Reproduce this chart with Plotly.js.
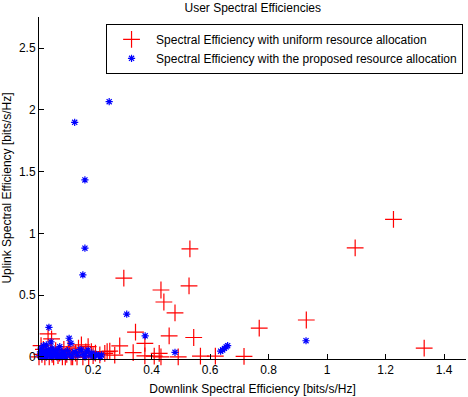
<!DOCTYPE html>
<html>
<head>
<meta charset="utf-8">
<script src="https://cdn.plot.ly/plotly-3.0.1.min.js"></script>
<style>
  body { margin: 0; padding: 0; background: #fff; }
  #plot { width: 468px; height: 397px; }
</style>
</head>
<body>
<div id="plot"></div>
<script>
// uniform resource allocation (red +)
var uniformX = [1.227, 1.096, 0.531, 0.528, 0.432, 0.442, 0.480, 0.305, 0.929, 0.768, 1.332, 0.716,
  0.345, 0.460, 0.544, 0.377, 0.291, 0.257, 0.337, 0.274, 0.377, 0.426, 0.409, 0.432, 0.491, 0.567, 0.618, 0.240, 0.248,
  0.022, 0.030, 0.025, 0.035, 0.040, 0.046, 0.058, 0.055, 0.060, 0.065, 0.072, 0.080, 0.085, 0.095, 0.100, 0.110,
  0.120, 0.130, 0.140, 0.150, 0.160, 0.165, 0.175, 0.183, 0.194, 0.200, 0.208, 0.223, 0.015, 0.050, 0.115, 0.125,
  0.105, 0.185, 0.145];
var uniformY = [1.114, 0.882, 0.874, 0.574, 0.541, 0.444, 0.355, 0.637, 0.298, 0.232, 0.070, 0.004,
  0.199, 0.169, 0.156, 0.109, 0.088, 0.045, 0.034, 0.013, 0.008, 0.028, 0.006, 0.000, 0.000, 0.006, 0.006, 0.028, 0.041,
  0.090, 0.060, 0.020, 0.000, 0.040, 0.185, 0.145, 0.070, 0.020, 0.000, 0.050, 0.010, 0.030, 0.000, 0.060, 0.020,
  0.040, 0.000, 0.030, 0.070, 0.096, 0.000, 0.040, 0.082, 0.041, 0.010, 0.030, 0.015, 0.000, 0.000, 0.080, 0.000,
  0.000, 0.000, 0.000];

// proposed resource allocation (blue *)
var proposedX = [0.255, 0.137, 0.172, 0.172, 0.165, 0.315, 0.378, 0.480, 0.636, 0.643, 0.649, 0.655, 0.660, 0.928,
  0.018, 0.020, 0.022, 0.025, 0.028, 0.030, 0.033, 0.036, 0.040, 0.040, 0.043, 0.046, 0.049, 0.050, 0.053, 0.056,
  0.058, 0.060, 0.063, 0.066, 0.070, 0.073, 0.076, 0.080, 0.083, 0.086, 0.090, 0.094, 0.098, 0.102, 0.107, 0.112,
  0.118, 0.124, 0.120, 0.128, 0.135, 0.143, 0.148, 0.155, 0.160, 0.166, 0.172, 0.177, 0.183, 0.190, 0.196, 0.203,
  0.211, 0.218, 0.229, 0.225];
var proposedY = [2.067, 1.900, 1.433, 0.880, 0.663, 0.345, 0.170, 0.036, 0.045, 0.055, 0.068, 0.080, 0.090, 0.130,
  0.010, 0.040, 0.070, 0.000, 0.030, 0.090, 0.015, 0.050, 0.000, 0.096, 0.030, 0.060, 0.239, 0.010, 0.040, 0.120,
  0.000, 0.070, 0.020, 0.050, 0.010, 0.030, 0.000, 0.060, 0.020, 0.082, 0.000, 0.040, 0.010, 0.030, 0.000, 0.050,
  0.150, 0.109, 0.020, 0.000, 0.040, 0.033, 0.010, 0.060, 0.055, 0.020, 0.000, 0.040, 0.055, 0.010, 0.030, 0.000,
  0.020, 0.010, 0.015, 0.000];

var xTicks = [0.2, 0.4, 0.6, 0.8, 1, 1.2, 1.4];
var yTicks = [0, 0.5, 1, 1.5, 2, 2.5];

var font = {family: 'Liberation Sans, Arial, sans-serif', size: 12, color: '#000'};

var trace1 = {
  x: uniformX,
  y: uniformY,
  mode: 'markers',
  type: 'scatter',
  name: 'Spectral Efficiency with uniform resource allocation',
  cliponaxis: false,
  marker: {symbol: 'cross-thin-open', size: 12, color: 'red', line: {color: 'red', width: 1.2}}
};

var trace2 = {
  x: proposedX,
  y: proposedY,
  mode: 'markers',
  type: 'scatter',
  name: 'Spectral Efficiency with the proposed resource allocation',
  cliponaxis: false,
  marker: {symbol: 'asterisk-open', size: 6, color: 'blue', line: {color: 'blue', width: 1.2}}
};

var layout = {
  width: 468,
  height: 397,
  margin: {l: 39, r: 2, t: 17, b: 38},
  paper_bgcolor: '#fff',
  plot_bgcolor: '#fff',
  font: font,
  title: {text: 'User Spectral Efficiencies', font: font, x: 0.54, xanchor: 'center', y: 0.99, yanchor: 'top'},
  xaxis: {
    title: {text: 'Downlink Spectral Efficiency [bits/s/Hz]', font: font, standoff: 8},
    range: [0.015, 1.475],
    tickvals: xTicks,
    ticktext: xTicks.map(String),
    ticks: 'inside', ticklen: 5, tickcolor: '#000',
    showline: true, linecolor: '#000', linewidth: 1,
    showgrid: false, zeroline: false,
    tickfont: font
  },
  yaxis: {
    title: {text: 'Uplink Spectral Efficiency [bits/s/Hz]', font: font, standoff: 6},
    range: [-0.018, 2.753],
    tickvals: yTicks,
    ticktext: yTicks.map(String),
    ticks: 'inside', ticklen: 5, tickcolor: '#000',
    showline: true, linecolor: '#000', linewidth: 1,
    showgrid: false, zeroline: false,
    tickfont: font
  },
  legend: {
    x: 0.157, y: 0.98, xanchor: 'left', yanchor: 'top',
    bordercolor: '#000', borderwidth: 1, bgcolor: '#fff',
    font: font, itemwidth: 39
  },
  showlegend: true
};

Plotly.newPlot(document.getElementById('plot'), [trace1, trace2], layout, {staticPlot: true});
</script>
</body>
</html>
